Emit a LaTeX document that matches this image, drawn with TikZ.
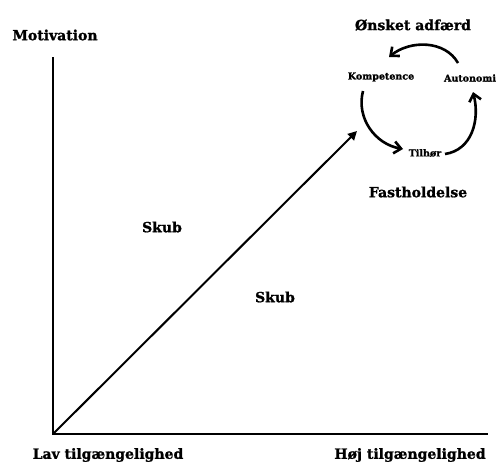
\documentclass[tikz,border=0pt]{standalone}
\usepackage{fontspec}
\setmainfont[BoldFeatures={FakeBold=1.2}]{DejaVu Serif}
\usetikzlibrary{arrows.meta}
\begin{document}
\begin{tikzpicture}[x=1pt,y=-1pt,
  lbl/.style={font=\bfseries\fontsize{14}{16}\selectfont, inner sep=0pt},
  small/.style={font=\bfseries\fontsize{9.5}{11}\selectfont, inner sep=0pt},
  axis/.style={line width=2.4pt},
  diag/.style={line width=2pt, -{Triangle[length=9pt,width=9pt]}},
  cyc/.style={line width=2.6pt, -{Straight Barb[length=7pt,width=12pt]}}]
\useasboundingbox (0,0) rectangle (497,464);
% axes
\coordinate (O) at (53,434);
\coordinate (top) at (53,57);
\coordinate (right) at (488,434);
\coordinate (tip) at (357,131);
\draw[axis] (top) -- (O) -- (right);
\draw[diag] (O) -- (tip);
% labels
\node[lbl] (mot) at (55,35) {Motivation};
\node[lbl] (lav) at (108,455) {Lav tilgængelighed};
\node[lbl] (hoj) at (410,455) {Høj tilgængelighed};
\node[lbl] (skub1) at (162,227) {Skub};
\node[lbl] (skub2) at (275,297) {Skub};
\node[lbl] (onsk) at (413,25) {Ønsket adfærd};
\node[lbl] (fast) at (418,192) {Fastholdelse};
% cycle
\node[small] (komp) at (381,77) {Kompetence};
\node[small] (auto) at (470,78) {Autonomi};
\node[small] (tilh) at (425,153) {Tilhør};
\coordinate (a1s) at (458,63);
\coordinate (a1e) at (389,57);
\coordinate (a2s) at (363,91);
\coordinate (a2e) at (403,149);
\coordinate (a3s) at (445,154);
\coordinate (a3e) at (473,92);
\draw[cyc] (a1s) .. controls (445,40) and (410,40) .. (a1e);
\draw[cyc] (a2s) .. controls (356,118) and (375,144) .. (a2e);
\draw[cyc] (a3s) .. controls (472,150) and (480,120) .. (a3e);
\end{tikzpicture}
\end{document}
